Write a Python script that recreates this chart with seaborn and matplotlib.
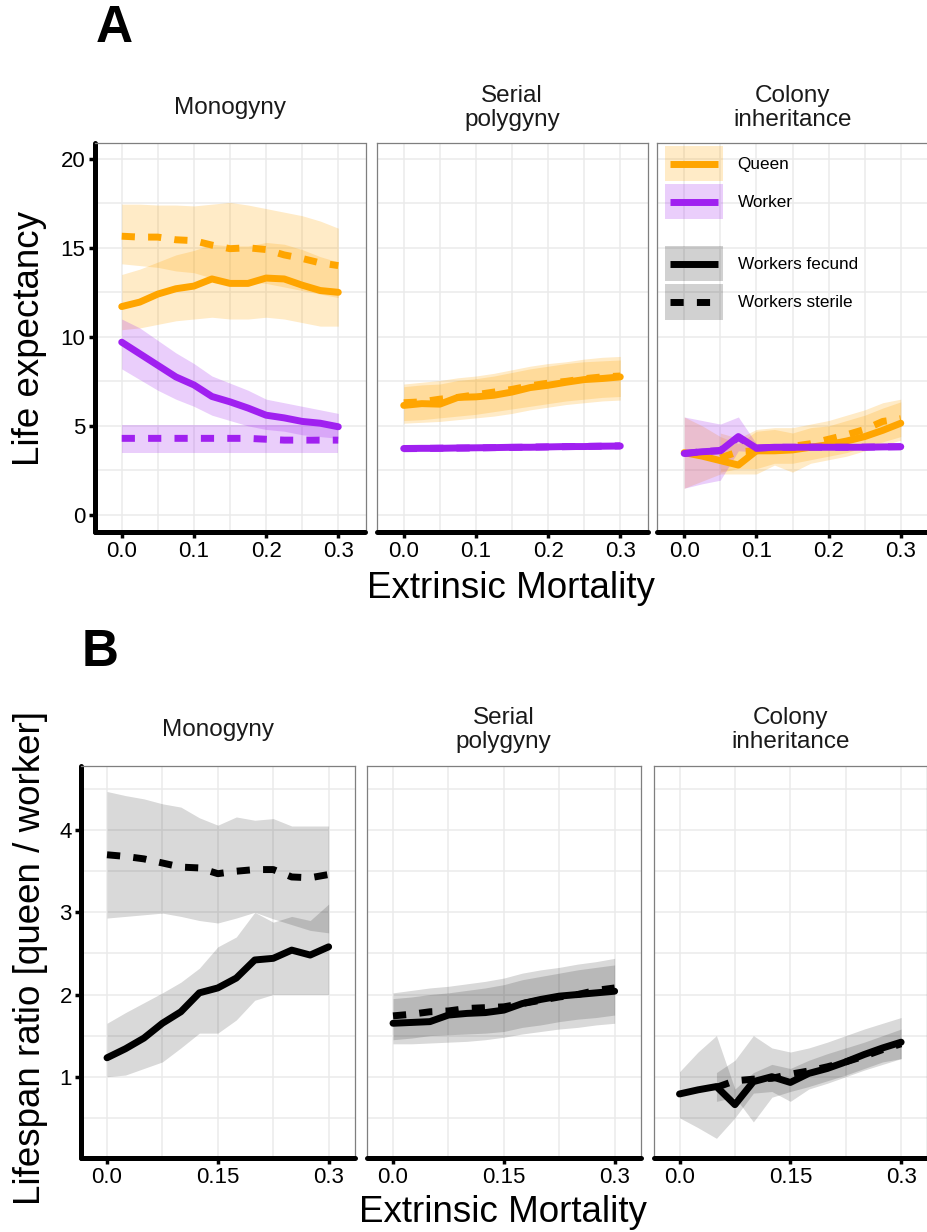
import numpy as np
import pandas as pd
import seaborn as sns
import matplotlib
matplotlib.use("Agg")
import matplotlib.pyplot as plt
from matplotlib.patches import Rectangle
from matplotlib.lines import Line2D
from matplotlib.colors import to_rgba
from matplotlib.legend_handler import HandlerBase

nan = np.nan

# extrinsic mortality levels
mortality = [0.0, 0.025, 0.05, 0.075, 0.1, 0.125, 0.15, 0.175, 0.2, 0.225, 0.25, 0.275, 0.3]

# ---------- A: life expectancy ----------
# Monogyny
mono_queen_fec = [11.7, 11.95, 12.4, 12.7, 12.85, 13.25, 13.0, 13.0, 13.3, 13.25, 12.9, 12.6, 12.5]
mono_queen_fec_lo = [10.4, 10.5, 10.7, 10.9, 11.0, 11.1, 11.0, 11.0, 11.1, 11.0, 10.8, 10.6, 10.6]
mono_queen_fec_hi = [13.5, 13.8, 14.2, 14.6, 14.85, 15.2, 15.1, 15.1, 15.3, 15.2, 14.9, 14.5, 14.2]
mono_queen_ster = [15.65, 15.6, 15.6, 15.45, 15.4, 15.15, 14.95, 15.0, 14.9, 14.6, 14.4, 14.15, 14.0]
mono_queen_ster_lo = [14.1, 14.0, 13.9, 13.7, 13.6, 13.3, 13.1, 13.1, 13.0, 12.8, 12.6, 12.4, 12.2]
mono_queen_ster_hi = [17.45, 17.45, 17.4, 17.4, 17.35, 17.45, 17.55, 17.4, 17.2, 17.0, 16.8, 16.5, 16.1]
mono_worker_fec = [9.7, 9.05, 8.4, 7.75, 7.3, 6.65, 6.35, 6.0, 5.6, 5.45, 5.25, 5.15, 4.95]
mono_worker_fec_lo = [8.2, 7.6, 7.0, 6.5, 6.1, 5.6, 5.3, 5.0, 4.8, 4.7, 4.5, 4.4, 4.3]
mono_worker_fec_hi = [11.0, 10.5, 9.8, 9.1, 8.5, 7.8, 7.4, 7.0, 6.5, 6.3, 6.1, 5.9, 5.7]
mono_worker_ster = [4.3, 4.3, 4.3, 4.3, 4.3, 4.3, 4.3, 4.3, 4.25, 4.2, 4.2, 4.2, 4.2]
mono_worker_ster_lo = [3.5, 3.5, 3.5, 3.5, 3.5, 3.5, 3.5, 3.5, 3.5, 3.5, 3.5, 3.5, 3.5]
mono_worker_ster_hi = [5.05, 5.05, 5.05, 5.05, 5.05, 5.05, 5.05, 5.05, 5.05, 5.05, 5.05, 5.05, 5.05]

# Serial polygyny
serial_queen_fec = [6.15, 6.25, 6.22, 6.6, 6.63, 6.72, 6.9, 7.15, 7.28, 7.45, 7.6, 7.66, 7.75]
serial_queen_fec_lo = [5.15, 5.2, 5.25, 5.35, 5.45, 5.55, 5.7, 5.9, 6.05, 6.2, 6.3, 6.4, 6.45]
serial_queen_fec_hi = [7.2, 7.3, 7.35, 7.55, 7.65, 7.8, 8.0, 8.2, 8.35, 8.5, 8.6, 8.65, 8.7]
serial_queen_ster = [6.3, 6.35, 6.5, 6.6, 6.75, 6.9, 7.05, 7.25, 7.4, 7.5, 7.65, 7.75, 7.8]
serial_queen_ster_lo = [5.3, 5.35, 5.45, 5.55, 5.65, 5.8, 5.95, 6.1, 6.25, 6.4, 6.5, 6.6, 6.65]
serial_queen_ster_hi = [7.35, 7.45, 7.55, 7.7, 7.8, 7.95, 8.15, 8.35, 8.5, 8.6, 8.75, 8.85, 8.9]
serial_worker_fec = [3.73, 3.74, 3.74, 3.76, 3.77, 3.78, 3.8, 3.8, 3.82, 3.84, 3.84, 3.86, 3.87]
serial_worker_ster = [3.72, 3.73, 3.75, 3.75, 3.76, 3.78, 3.79, 3.81, 3.82, 3.83, 3.85, 3.86, 3.88]
serial_worker_lo = [3.58, 3.59, 3.59, 3.61, 3.62, 3.63, 3.65, 3.65, 3.67, 3.69, 3.69, 3.71, 3.72]
serial_worker_hi = [3.88, 3.89, 3.89, 3.91, 3.92, 3.93, 3.95, 3.95, 3.97, 3.99, 3.99, 4.01, 4.02]

# Colony inheritance
colony_queen_fec = [3.5, 3.3, 3.05, 2.8, 3.6, 3.6, 3.65, 3.8, 3.95, 4.15, 4.4, 4.75, 5.15]
colony_queen_fec_lo = [1.5, 1.9, 2.3, 2.3, 2.3, 2.8, 2.4, 2.9, 3.1, 3.3, 3.6, 3.9, 4.2]
colony_queen_fec_hi = [5.5, 5.0, 4.4, 4.0, 4.7, 4.8, 4.6, 4.9, 5.0, 5.3, 5.6, 6.0, 6.35]
colony_queen_ster = [nan, nan, 3.2, 3.55, 3.6, 3.7, 3.85, 4.0, 4.25, 4.5, 4.8, 5.25, 5.4]
colony_queen_ster_lo = [nan, nan, 2.4, 2.6, 2.6, 2.9, 2.9, 3.1, 3.3, 3.5, 3.8, 4.1, 4.4]
colony_queen_ster_hi = [nan, nan, 4.6, 4.3, 4.8, 4.9, 4.9, 5.1, 5.3, 5.6, 5.9, 6.3, 6.5]
colony_worker_fec = [3.45, 3.55, 3.6, 4.4, 3.75, 3.8, 3.8, 3.8, 3.8, 3.8, 3.8, 3.82, 3.83]
colony_worker_ster = [3.45, 3.55, 3.62, 4.35, 3.75, 3.8, 3.8, 3.81, 3.8, 3.8, 3.81, 3.82, 3.83]
colony_worker_lo = [1.5, 1.75, 1.95, 3.6, 3.55, 3.6, 3.65, 3.65, 3.65, 3.65, 3.68, 3.7, 3.7]
colony_worker_hi = [5.5, 5.3, 5.1, 5.5, 4.0, 3.98, 3.95, 3.95, 3.95, 3.95, 3.96, 3.97, 3.98]

# ---------- B: lifespan ratio queen / worker ----------
ratio_mono_fec = [1.23, 1.34, 1.47, 1.65, 1.79, 2.02, 2.08, 2.2, 2.42, 2.44, 2.54, 2.48, 2.58]
ratio_mono_fec_lo = [1.0, 1.02, 1.1, 1.18, 1.35, 1.53, 1.53, 1.69, 1.93, 2.0, 2.0, 2.0, 2.0]
ratio_mono_fec_hi = [1.65, 1.78, 1.9, 2.02, 2.15, 2.32, 2.58, 2.7, 3.0, 2.88, 2.95, 2.9, 3.1]
ratio_mono_ster = [3.7, 3.68, 3.65, 3.6, 3.55, 3.54, 3.47, 3.5, 3.52, 3.52, 3.43, 3.42, 3.46]
ratio_mono_ster_lo = [2.93, 2.95, 2.97, 2.99, 2.95, 2.9, 2.87, 2.93, 3.0, 2.92, 2.85, 2.78, 2.75]
ratio_mono_ster_hi = [4.47, 4.42, 4.38, 4.32, 4.28, 4.15, 4.06, 4.16, 4.12, 4.14, 4.05, 4.05, 4.05]

ratio_serial_fec = [1.65, 1.66, 1.67, 1.75, 1.77, 1.78, 1.81, 1.89, 1.94, 1.98, 2.0, 2.02, 2.04]
ratio_serial_fec_lo = [1.4, 1.4, 1.41, 1.42, 1.43, 1.45, 1.48, 1.52, 1.55, 1.58, 1.6, 1.63, 1.65]
ratio_serial_fec_hi = [1.95, 1.97, 2.0, 2.02, 2.05, 2.08, 2.12, 2.18, 2.22, 2.26, 2.3, 2.33, 2.36]
ratio_serial_ster = [1.74, 1.76, 1.79, 1.8, 1.83, 1.84, 1.85, 1.89, 1.93, 1.97, 2.0, 2.05, 2.08]
ratio_serial_ster_lo = [1.45, 1.47, 1.5, 1.51, 1.52, 1.53, 1.55, 1.6, 1.63, 1.67, 1.7, 1.72, 1.75]
ratio_serial_ster_hi = [2.02, 2.05, 2.08, 2.1, 2.13, 2.16, 2.2, 2.26, 2.3, 2.33, 2.37, 2.4, 2.44]

ratio_colony_fec = [0.79, 0.84, 0.88, 0.66, 0.94, 1.0, 0.93, 1.04, 1.1, 1.18, 1.27, 1.35, 1.42]
ratio_colony_fec_lo = [0.5, 0.38, 0.25, 0.5, 0.8, 0.82, 0.7, 0.85, 0.92, 1.0, 1.08, 1.15, 1.22]
ratio_colony_fec_hi = [1.06, 1.3, 1.5, 0.85, 1.05, 1.15, 1.1, 1.2, 1.28, 1.35, 1.42, 1.5, 1.58]
ratio_colony_ster = [nan, nan, 0.87, 0.95, 0.97, 0.98, 1.03, 1.07, 1.12, 1.18, 1.25, 1.33, 1.4]
ratio_colony_ster_lo = [nan, nan, 0.7, 0.75, 0.45, 0.75, 0.82, 0.88, 0.95, 1.02, 1.1, 1.18, 1.22]
ratio_colony_ster_hi = [nan, nan, 1.05, 1.2, 1.5, 1.35, 1.3, 1.35, 1.42, 1.5, 1.58, 1.65, 1.72]

facets = ["Monogyny", "Serial\npolygyny", "Colony\ninheritance"]

ORANGE = "#FFA500"
PURPLE = "#A020F0"
DASH = (1.9, 1.9)

sns.set_theme(style="white")
plt.rcParams["font.family"] = ["Liberation Sans", "DejaVu Sans"]
plt.rcParams["text.color"] = "black"

W, H = 927, 1232
fig = plt.figure(figsize=(W / 100, H / 100), dpi=100)


def px_rect(left, top, w, h):
    return [left / W, 1 - (top + h) / H, w / W, h / H]


def frame(series):
    rows = []
    for (caste, workers), vals in series.items():
        for m, v in zip(mortality, vals):
            rows.append({"mortality": m, "value": v, "caste": caste, "workers": workers})
    return pd.DataFrame(rows)


def style_axes(ax, first, xticks, xlabels, xminor, yticks, yminor, xlim, ylim):
    ax.set_xlim(*xlim)
    ax.set_ylim(*ylim)
    ax.set_xticks(xticks)
    ax.set_xticklabels(xlabels)
    ax.set_xticks(xminor, minor=True)
    ax.set_yticks(yticks)
    ax.set_yticks(yminor, minor=True)
    ax.grid(which="both", color="#EBEBEB", lw=1.1)
    ax.set_axisbelow(True)
    for s in ["top", "right"]:
        ax.spines[s].set_color("#7F7F7F")
        ax.spines[s].set_linewidth(0.9)
    ax.spines["bottom"].set_color("black")
    ax.spines["bottom"].set_linewidth(3.6)
    ax.spines["bottom"].set_capstyle("round")
    if first:
        ax.spines["left"].set_color("black")
        ax.spines["left"].set_linewidth(3.6)
        ax.spines["left"].set_capstyle("round")
    else:
        ax.spines["left"].set_color("#7F7F7F")
        ax.spines["left"].set_linewidth(0.9)
    ax.tick_params(which="major", length=4, width=2.5, color="black",
                   labelsize=16, labelcolor="black", pad=2.5)
    ax.tick_params(which="minor", length=0)
    ax.tick_params(axis="y", left=first, labelleft=first)
    ax.tick_params(axis="x", bottom=True)
    ax.set_xlabel("")
    ax.set_ylabel("")


def draw(ax, lines, bands, palette):
    for color, alpha, lo, hi in bands:
        ax.fill_between(mortality, lo, hi, color=color, alpha=alpha, lw=0, zorder=1)
    df = frame(lines)
    sns.lineplot(data=df, x="mortality", y="value", hue="caste", style="workers",
                 palette=palette, dashes={"fecund": "", "sterile": DASH},
                 style_order=["fecund", "sterile"], errorbar=None, legend=False,
                 linewidth=5, ax=ax, zorder=2)


class KeyHandler(HandlerBase):
    # filled box with a line centred across it, like a ggplot ribbon+line key
    def create_artists(self, legend, orig_handle, xdescent, ydescent, width, height,
                       fontsize, trans):
        fill, color, ls = orig_handle
        x0, y0 = -xdescent, -ydescent
        box = Rectangle((x0, y0), width, height, facecolor=fill, edgecolor="none",
                        transform=trans)
        pad = 3.5
        ln = Line2D([x0 + pad, x0 + width - pad], [y0 + height / 2] * 2, color=color,
                    lw=5, linestyle=ls, solid_capstyle="butt", dash_capstyle="butt",
                    transform=trans)
        return [box, ln]


# ---------- row A ----------
a_left = [94.5, 376.5, 657]
a_panels = [
    ({("Queen", "fecund"): mono_queen_fec, ("Queen", "sterile"): mono_queen_ster,
      ("Worker", "fecund"): mono_worker_fec, ("Worker", "sterile"): mono_worker_ster},
     [(ORANGE, 0.22, mono_queen_fec_lo, mono_queen_fec_hi),
      (ORANGE, 0.22, mono_queen_ster_lo, mono_queen_ster_hi),
      (PURPLE, 0.22, mono_worker_fec_lo, mono_worker_fec_hi),
      (PURPLE, 0.22, mono_worker_ster_lo, mono_worker_ster_hi)]),
    ({("Queen", "fecund"): serial_queen_fec, ("Queen", "sterile"): serial_queen_ster,
      ("Worker", "fecund"): serial_worker_fec, ("Worker", "sterile"): serial_worker_ster},
     [(ORANGE, 0.22, serial_queen_fec_lo, serial_queen_fec_hi),
      (ORANGE, 0.22, serial_queen_ster_lo, serial_queen_ster_hi),
      (PURPLE, 0.22, serial_worker_lo, serial_worker_hi)]),
    ({("Queen", "fecund"): colony_queen_fec, ("Queen", "sterile"): colony_queen_ster,
      ("Worker", "fecund"): colony_worker_fec, ("Worker", "sterile"): colony_worker_ster},
     [(ORANGE, 0.22, colony_queen_fec_lo, colony_queen_fec_hi),
      (ORANGE, 0.22, colony_queen_ster_lo, colony_queen_ster_hi),
      (PURPLE, 0.22, colony_worker_lo, colony_worker_hi)]),
]
axes_a = []
for i, (lines, bands) in enumerate(a_panels):
    ax = fig.add_axes(px_rect(a_left[i], 142.7, 271, 388.8))
    draw(ax, lines, bands, {"Queen": ORANGE, "Worker": PURPLE})
    style_axes(ax, i == 0, [0, 0.1, 0.2, 0.3], ["0.0", "0.1", "0.2", "0.3"],
               [0.05, 0.15, 0.25], [0, 5, 10, 15, 20], [2.5, 7.5, 12.5, 17.5],
               (-0.0377, 0.3377), (-0.93, 20.9))
    ax.text(0.5, 1 + 35 / 388.8, facets[i], transform=ax.transAxes, ha="center",
            va="center", fontsize=17.5, color="#1A1A1A", linespacing=1.1)
    axes_a.append(ax)

# legend inside the colony inheritance panel
ax = axes_a[2]
leg_kw = dict(loc="upper left", frameon=False, handlelength=3.4, handleheight=2.79,
              labelspacing=0.18, handletextpad=0.85, fontsize=12.3, borderpad=0,
              borderaxespad=0, handler_map={tuple: KeyHandler()})
h_queen = (to_rgba(ORANGE, 0.22), ORANGE, "-")
h_worker = (to_rgba(PURPLE, 0.22), PURPLE, "-")
leg1 = ax.legend([h_queen, h_worker], ["Queen", "Worker"],
                 bbox_to_anchor=(0.0295, 0.9915), **leg_kw)
ax.add_artist(leg1)
h_fec = (to_rgba("black", 0.18), "black", "-")
h_ster = (to_rgba("black", 0.18), "black", (0, DASH))
ax.legend([h_fec, h_ster], ["Workers fecund", "Workers sterile"],
          bbox_to_anchor=(0.0295, 0.734), **leg_kw)

# ---------- row B ----------
b_left = [81, 367, 653.5]
b_panels = [
    ({("Ratio", "fecund"): ratio_mono_fec, ("Ratio", "sterile"): ratio_mono_ster},
     [("black", 0.15, ratio_mono_fec_lo, ratio_mono_fec_hi),
      ("black", 0.15, ratio_mono_ster_lo, ratio_mono_ster_hi)]),
    ({("Ratio", "fecund"): ratio_serial_fec, ("Ratio", "sterile"): ratio_serial_ster},
     [("black", 0.15, ratio_serial_fec_lo, ratio_serial_fec_hi),
      ("black", 0.15, ratio_serial_ster_lo, ratio_serial_ster_hi)]),
    ({("Ratio", "fecund"): ratio_colony_fec, ("Ratio", "sterile"): ratio_colony_ster},
     [("black", 0.15, ratio_colony_fec_lo, ratio_colony_fec_hi),
      ("black", 0.15, ratio_colony_ster_lo, ratio_colony_ster_hi)]),
]
for i, (lines, bands) in enumerate(b_panels):
    ax = fig.add_axes(px_rect(b_left[i], 766, 273.5, 391.5))
    draw(ax, lines, bands, {"Ratio": "black"})
    style_axes(ax, i == 0, [0, 0.15, 0.3], ["0.0", "0.15", "0.3"],
               [0.075, 0.225], [1, 2, 3, 4], [0.5, 1.5, 2.5, 3.5, 4.5],
               (-0.0352, 0.335), (0.017, 4.78))
    ax.text(0.5, 1 + 36 / 391.5, facets[i], transform=ax.transAxes, ha="center",
            va="center", fontsize=17.5, color="#1A1A1A", linespacing=1.1)

# titles and panel letters
fig.text(114 / W, 1 - 28 / H, "A", fontsize=37, fontweight="bold", ha="center",
         va="center", color="black")
fig.text(100 / W, 1 - 652 / H, "B", fontsize=37, fontweight="bold", ha="center",
         va="center", color="black")
fig.text(30 / W, 1 - 339 / H, "Life expectancy", fontsize=26.5, rotation=90,
         ha="center", va="center", color="black")
fig.text(511 / W, 1 - 588 / H, "Extrinsic Mortality", fontsize=26.5, ha="center",
         va="center", color="black")
fig.text(30.5 / W, 1 - 958 / H, "Lifespan ratio [queen / worker]", fontsize=26.5,
         rotation=90, ha="center", va="center", color="black")
fig.text(503 / W, 1 - 1213 / H, "Extrinsic Mortality", fontsize=26.5, ha="center",
         va="center", color="black")

fig.savefig("out.png", dpi=100)
